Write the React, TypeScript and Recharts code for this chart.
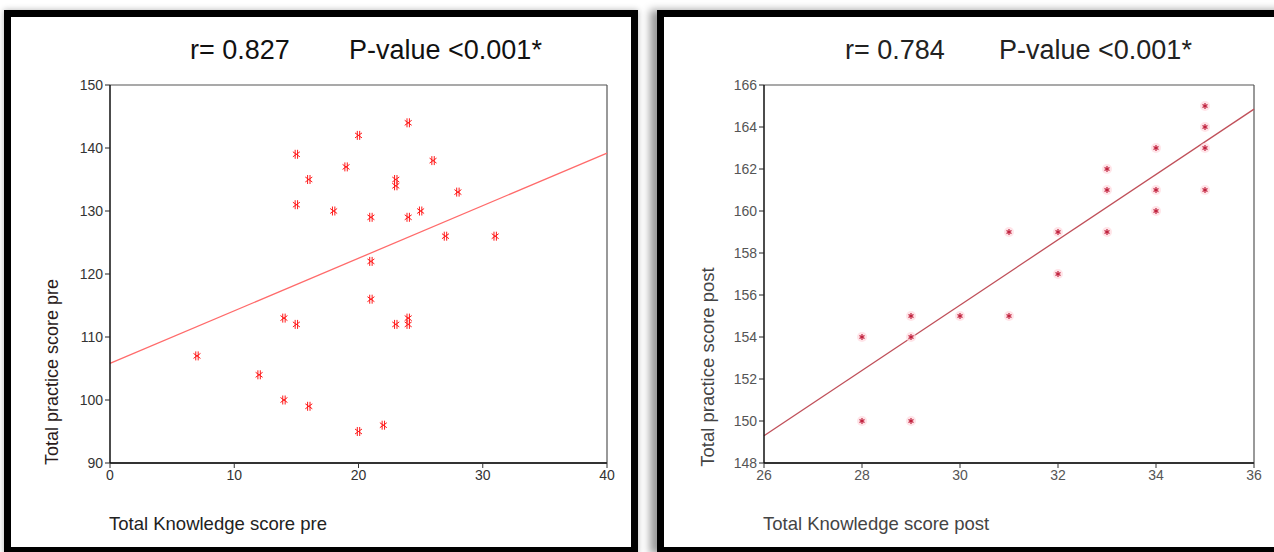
import React from 'react';
import { ScatterChart, Scatter, XAxis, YAxis, ReferenceLine } from 'recharts';

// Pre-intervention scores (knowledge vs practice)
const preKnowledge = [7, 12, 14, 14, 15, 15, 15, 16, 16, 18, 19, 20, 20, 21, 21, 21, 22, 23, 23, 23, 24, 24, 24, 24, 25, 26, 27, 28, 31];
const prePractice = [107, 104, 100, 113, 112, 131, 139, 99, 135, 130, 137, 142, 95, 129, 122, 116, 96, 135, 134, 112, 144, 129, 113, 112, 130, 138, 126, 133, 126];
const preFitX = [0, 40];
const preFitY = [105.8, 139.2];
const preXTicks = [0, 10, 20, 30, 40];
const preYTicks = [90, 100, 110, 120, 130, 140, 150];

// Post-intervention scores
const postKnowledge = [28, 28, 29, 29, 29, 30, 31, 31, 32, 32, 33, 33, 33, 34, 34, 34, 35, 35, 35, 35];
const postPractice = [154, 150, 155, 154, 150, 155, 159, 155, 159, 157, 162, 161, 159, 163, 161, 160, 165, 164, 163, 161];
const postFitX = [26, 36];
const postFitY = [149.3, 164.85];
const postXTicks = [26, 28, 30, 32, 34, 36];
const postYTicks = [148, 150, 152, 154, 156, 158, 160, 162, 164, 166];

const FONT = '"Liberation Sans", Arial, sans-serif';

const toPoints = (xs: number[], ys: number[]) => xs.map((x, i) => ({ x, y: ys[i] }));

const PreMarker = (props: any) => {
  const { cx, cy } = props;
  const c = '#ff1a1a';
  return (
    <g stroke={c} strokeWidth={1}>
      <line x1={cx - 1.2} y1={cy - 4.5} x2={cx - 1.2} y2={cy + 4.5} />
      <line x1={cx + 1.2} y1={cy - 4.5} x2={cx + 1.2} y2={cy + 4.5} />
      <line x1={cx - 3.5} y1={cy - 2.5} x2={cx + 3.5} y2={cy + 2.5} />
      <line x1={cx - 3.5} y1={cy + 2.5} x2={cx + 3.5} y2={cy - 2.5} />
    </g>
  );
};

const PostMarker = (props: any) => {
  const { cx, cy } = props;
  return (
    <g>
      <circle cx={cx} cy={cy} r={5} fill="#ffd9de" opacity={0.7} />
      <g stroke="#c0203c" strokeWidth={1.2}>
        <line x1={cx} y1={cy - 3} x2={cx} y2={cy + 3} />
        <line x1={cx - 2.5} y1={cy - 1.5} x2={cx + 2.5} y2={cy + 1.5} />
        <line x1={cx - 2.5} y1={cy + 1.5} x2={cx + 2.5} y2={cy - 1.5} />
      </g>
    </g>
  );
};

interface PanelProps {
  left: number;
  width: number;
  marginLeft: number;
  marginRight: number;
  xs: number[];
  ys: number[];
  fitX: number[];
  fitY: number[];
  xTicks: number[];
  yTicks: number[];
  fitColor: string;
  tickColor: string;
  tickSize: number;
  marker: (p: any) => React.ReactElement;
}

function Panel(p: PanelProps) {
  const xMin = p.xTicks[0];
  const xMax = p.xTicks[p.xTicks.length - 1];
  const yMin = p.yTicks[0];
  const yMax = p.yTicks[p.yTicks.length - 1];
  const tick = { fill: p.tickColor, fontSize: p.tickSize, fontFamily: FONT };
  return (
    <div style={{ position: 'absolute', left: p.left, top: 0 }}>
      <ScatterChart
        width={p.width}
        height={552}
        margin={{ top: 85, right: p.marginRight, bottom: 59, left: p.marginLeft }}
      >
        <XAxis
          type="number"
          dataKey="x"
          domain={[xMin, xMax]}
          ticks={p.xTicks}
          tick={tick}
          tickSize={5}
          stroke="#333"
          axisLine={{ stroke: '#333', strokeWidth: 2 }}
          allowDataOverflow
        />
        <YAxis
          type="number"
          dataKey="y"
          domain={[yMin, yMax]}
          ticks={p.yTicks}
          tick={tick}
          tickSize={5}
          stroke="#222"
          axisLine={{ stroke: '#111', strokeWidth: 1.5 }}
          allowDataOverflow
        />
        <ReferenceLine y={yMax} stroke="#555" strokeWidth={1.2} />
        <ReferenceLine x={xMax} stroke="#555" strokeWidth={1.2} />
        <ReferenceLine
          segment={[
            { x: p.fitX[0], y: p.fitY[0] },
            { x: p.fitX[1], y: p.fitY[1] },
          ]}
          stroke={p.fitColor}
          strokeWidth={1.3}
        />
        <Scatter data={toPoints(p.xs, p.ys)} shape={p.marker} isAnimationActive={false} />
      </ScatterChart>
    </div>
  );
}

const textBase: React.CSSProperties = {
  position: 'absolute',
  fontFamily: FONT,
  whiteSpace: 'nowrap',
  lineHeight: 1,
};

export default function App() {
  return (
    <div
      style={{
        position: 'absolute',
        left: 0,
        top: 0,
        width: 1274,
        height: 552,
        overflow: 'hidden',
        background: '#fff',
      }}
    >
      {/* frames */}
      <div
        style={{
          position: 'absolute', left: 4, top: 10, width: 620, height: 530,
          border: '7px solid #000', boxShadow: '0 0 6px rgba(0,0,0,0.3)',
        }}
      />
      <div
        style={{
          position: 'absolute', left: 657, top: 10, width: 640, height: 530,
          border: '7px solid #000', boxShadow: '-7px 0 8px rgba(0,0,0,0.4)',
        }}
      />

      <Panel
        left={0}
        width={640}
        marginLeft={50}
        marginRight={33}
        xs={preKnowledge}
        ys={prePractice}
        fitX={preFitX}
        fitY={preFitY}
        xTicks={preXTicks}
        yTicks={preYTicks}
        fitColor="#ff6b6b"
        tickColor="#333"
        tickSize={14}
        marker={PreMarker}
      />
      <Panel
        left={640}
        width={634}
        marginLeft={64}
        marginRight={20}
        xs={postKnowledge}
        ys={postPractice}
        fitX={postFitX}
        fitY={postFitY}
        xTicks={postXTicks}
        yTicks={postYTicks}
        fitColor="#c0505a"
        tickColor="#555"
        tickSize={14}
        marker={PostMarker}
      />

      {/* titles */}
      <div style={{ ...textBase, left: 190, top: 37, fontSize: 27, color: '#111' }}>r= 0.827</div>
      <div style={{ ...textBase, left: 349, top: 37, fontSize: 27, color: '#111' }}>P-value &lt;0.001*</div>
      <div style={{ ...textBase, left: 845, top: 37, fontSize: 27, color: '#222' }}>r= 0.784</div>
      <div style={{ ...textBase, left: 999, top: 37, fontSize: 27, color: '#222' }}>P-value &lt;0.001*</div>

      {/* axis titles */}
      <div style={{ ...textBase, left: 109, top: 515, fontSize: 18.5, color: '#222' }}>Total Knowledge score pre</div>
      <div style={{ ...textBase, left: 763, top: 515, fontSize: 18.5, color: '#444' }}>Total Knowledge score post</div>
      <div
        style={{
          ...textBase, left: 52, top: 372, fontSize: 18, color: '#2a1a1a',
          transform: 'translate(-50%, -50%) rotate(-90deg)',
        }}
      >
        Total practice score pre
      </div>
      <div
        style={{
          ...textBase, left: 708, top: 367, fontSize: 18.5, color: '#444',
          transform: 'translate(-50%, -50%) rotate(-90deg)',
        }}
      >
        Total practice score post
      </div>
    </div>
  );
}
